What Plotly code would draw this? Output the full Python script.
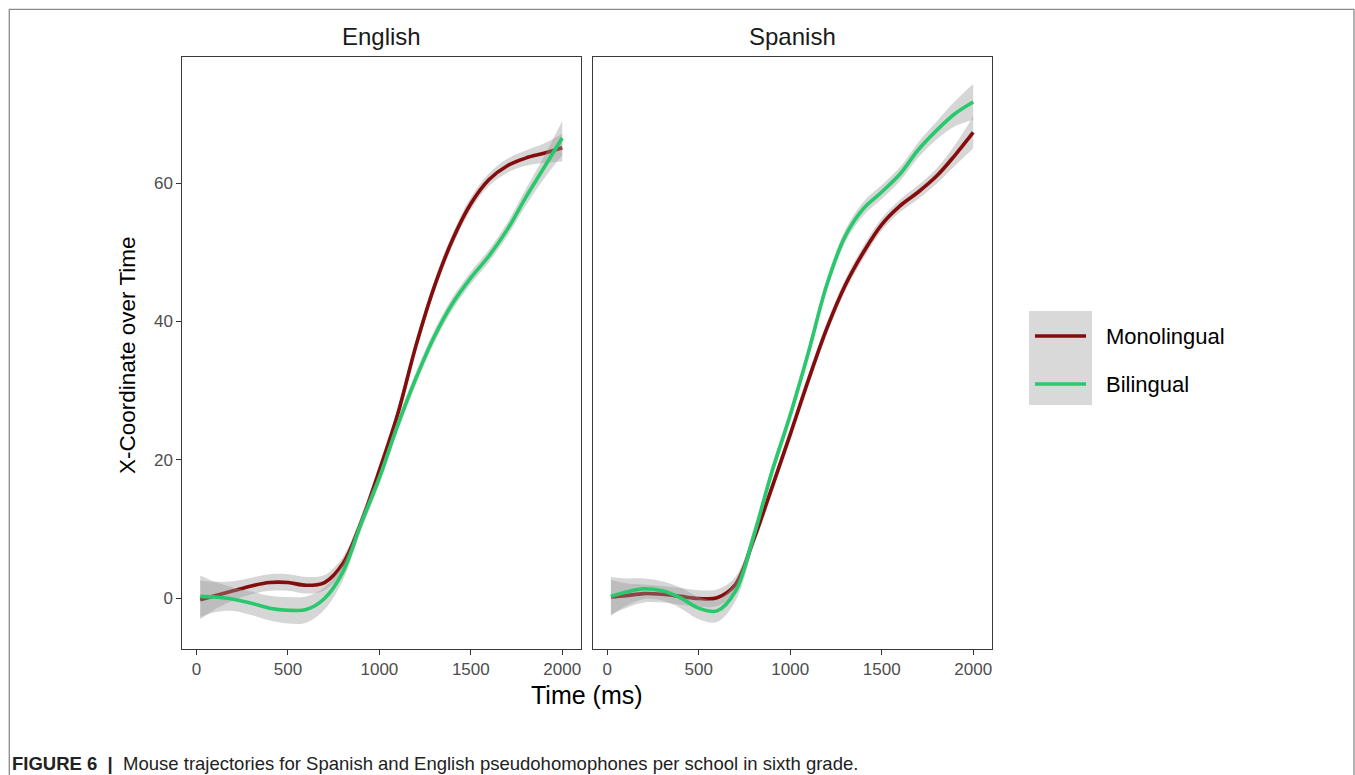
import plotly.graph_objects as go

# Time grid (ms) at which the smoothed trajectories are sampled
time_ms = [20, 100, 200, 300, 400, 500, 600, 700, 800, 900, 1000,
           1100, 1200, 1300, 1400, 1500, 1600, 1700, 1800, 1900, 2000]

# English pseudohomophones: fitted x-coordinate and standard error
eng_mono = [-0.2, 0.4, 1.1, 1.8, 2.3, 2.3, 1.9, 2.3, 5.0, 11.0, 18.5,
            26.6, 36.5, 45.0, 51.8, 57.0, 60.5, 62.5, 63.6, 64.3, 65.1]
eng_mono_se = [2.8, 2.0, 1.4, 1.2, 1.2, 1.2, 1.2, 1.1, 1.0, 0.9, 0.9,
               0.9, 0.9, 0.9, 0.9, 0.9, 0.9, 1.0, 1.1, 1.4, 2.0]
eng_bi = [0.3, 0.2, -0.1, -0.7, -1.4, -1.7, -1.6, 0.0, 3.8, 10.8, 17.4,
          25.0, 31.8, 37.8, 42.6, 46.3, 49.5, 53.3, 57.9, 62.2, 66.5]
eng_bi_se = [3.0, 2.2, 1.7, 1.7, 1.8, 1.9, 1.9, 1.6, 1.2, 1.0, 0.9,
             0.9, 0.9, 0.9, 0.9, 0.9, 0.9, 1.0, 1.2, 1.6, 2.5]

# Spanish pseudohomophones: fitted x-coordinate and standard error
spa_mono = [0.2, 0.4, 0.7, 0.6, 0.3, 0.0, 0.1, 2.0, 8.5, 16.0, 23.7,
            31.6, 39.0, 45.2, 50.0, 54.0, 56.7, 58.7, 61.0, 64.0, 67.3]
spa_mono_se = [2.5, 1.8, 1.3, 1.2, 1.2, 1.2, 1.2, 1.1, 1.0, 0.9, 0.9,
               0.9, 0.9, 0.9, 0.9, 0.9, 0.9, 1.0, 1.1, 1.5, 2.3]
spa_bi = [0.3, 0.9, 1.4, 1.1, 0.1, -1.4, -1.8, 1.0, 9.0, 18.3, 26.5,
          35.6, 45.3, 52.3, 56.3, 58.7, 61.3, 64.8, 67.6, 70.0, 71.7]
spa_bi_se = [2.8, 2.0, 1.5, 1.4, 1.5, 1.6, 1.6, 1.4, 1.1, 0.9, 0.9,
             0.9, 0.9, 0.9, 1.0, 1.0, 1.0, 1.1, 1.3, 1.8, 2.6]

panels = ["English", "Spanish"]
groups = ["Monolingual", "Bilingual"]
x_ticks = [0, 500, 1000, 1500, 2000]
y_ticks = [0, 20, 40, 60]

series = {
    ("English", "Monolingual"): (eng_mono, eng_mono_se),
    ("English", "Bilingual"): (eng_bi, eng_bi_se),
    ("Spanish", "Monolingual"): (spa_mono, spa_mono_se),
    ("Spanish", "Bilingual"): (spa_bi, spa_bi_se),
}
colors = {"Monolingual": "#840C0C", "Bilingual": "#27C96C"}
ribbon_fill = "rgba(153,153,153,0.4)"

W, H = 1355, 775
fig = go.Figure()

for i, panel in enumerate(panels):
    xa = "x" if i == 0 else "x2"
    ya = "y" if i == 0 else "y2"
    for g in groups:
        vals, se = series[(panel, g)]
        lower = [v - s for v, s in zip(vals, se)]
        upper = [v + s for v, s in zip(vals, se)]
        fig.add_trace(go.Scatter(x=time_ms, y=lower, mode="lines",
                                 line=dict(width=0, shape="spline"),
                                 xaxis=xa, yaxis=ya, showlegend=False,
                                 hoverinfo="skip"))
        fig.add_trace(go.Scatter(x=time_ms, y=upper, mode="lines",
                                 line=dict(width=0, shape="spline"),
                                 fill="tonexty", fillcolor=ribbon_fill,
                                 xaxis=xa, yaxis=ya, showlegend=False,
                                 hoverinfo="skip"))
        fig.add_trace(go.Scatter(x=time_ms, y=vals, mode="lines", name=g,
                                 line=dict(color=colors[g], width=3.6,
                                           shape="spline"),
                                 xaxis=xa, yaxis=ya, showlegend=False))

# Panel geometry in pixels
px_top, px_bottom = 57, 649
px_panels = [(182.3, 580.5), (593, 991.5)]

def fx(px):
    return px / W

def fy(py):
    return 1 - py / H

axis_common = dict(showgrid=False, zeroline=False, showline=True,
                   linecolor="#3a3a3a", linewidth=1.1, mirror=True,
                   ticks="outside", ticklen=5, tickwidth=1.1,
                   tickcolor="#333333",
                   tickfont=dict(family="Liberation Sans, Arial", size=17,
                                 color="#4D4D4D"))

fig.update_layout(
    xaxis=dict(domain=[fx(px_panels[0][0]), fx(px_panels[0][1])],
               range=[-78, 2100], tickvals=x_ticks, anchor="y", **axis_common),
    xaxis2=dict(domain=[fx(px_panels[1][0]), fx(px_panels[1][1])],
                range=[-78, 2100], tickvals=x_ticks, anchor="y2", **axis_common),
    yaxis=dict(domain=[fy(px_bottom), fy(px_top)], range=[-7.3, 78.2],
               tickvals=y_ticks, anchor="x", **axis_common),
    yaxis2=dict(domain=[fy(px_bottom), fy(px_top)], range=[-7.3, 78.2],
                tickvals=y_ticks, anchor="x2", showticklabels=False,
                **axis_common),
)
fig.layout.yaxis2.ticks = ""

font_main = "Liberation Sans, Arial, sans-serif"
annotations = []
# Facet strip labels
for (l, r), panel in zip(px_panels, panels):
    annotations.append(dict(x=fx((l + r) / 2), y=fy(37), xref="paper",
                            yref="paper", text=panel, showarrow=False,
                            xanchor="center", yanchor="middle",
                            font=dict(family=font_main, size=24,
                                      color="#1a1a1a")))
# Axis titles
annotations.append(dict(x=fx(587), y=fy(695), xref="paper", yref="paper",
                        text="Time (ms)", showarrow=False, xanchor="center",
                        yanchor="middle",
                        font=dict(family=font_main, size=25, color="#000000")))
annotations.append(dict(x=fx(128), y=fy(355), xref="paper", yref="paper",
                        text="X-Coordinate over Time", showarrow=False,
                        textangle=-90, xanchor="center", yanchor="middle",
                        font=dict(family=font_main, size=22.5,
                                  color="#000000")))

# Legend: grey key box with line keys and labels
shapes = []
shapes.append(dict(type="rect", xref="paper", yref="paper",
                   x0=fx(1029), x1=fx(1092), y0=fy(405), y1=fy(311),
                   fillcolor="#D9D9D9", line=dict(width=0), layer="below"))
for g, ky in zip(groups, [336, 384]):
    shapes.append(dict(type="line", xref="paper", yref="paper",
                       x0=fx(1035), x1=fx(1086), y0=fy(ky), y1=fy(ky),
                       line=dict(color=colors[g], width=3.6)))
    annotations.append(dict(x=fx(1104), y=fy(ky), xref="paper", yref="paper",
                            text=g, showarrow=False, xanchor="left",
                            yanchor="middle",
                            font=dict(family=font_main, size=22,
                                      color="#000000")))

# Figure frame
shapes.append(dict(type="rect", xref="paper", yref="paper",
                   x0=fx(9.3), x1=fx(1354), y0=-0.05, y1=fy(9.3),
                   line=dict(color="#8a8a8a", width=1.3), layer="below"))

# Caption
annotations.append(dict(
    x=fx(10), y=fy(763), xref="paper", yref="paper", showarrow=False,
    xanchor="left", yanchor="middle",
    text="<b>FIGURE 6</b>  <b>|</b>  Mouse trajectories for Spanish and English "
         "pseudohomophones per school in sixth grade.",
    font=dict(family="Liberation Sans, Arial", size=18.5, color="#222222")))

fig.update_layout(
    width=W, height=H, margin=dict(l=0, r=0, t=0, b=0),
    paper_bgcolor="white", plot_bgcolor="white",
    showlegend=False, annotations=annotations, shapes=shapes,
)

fig.write_html("out.html")
